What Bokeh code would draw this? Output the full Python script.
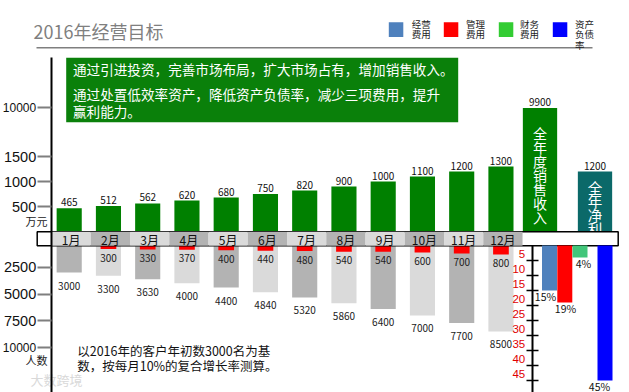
from bokeh.plotting import figure
from bokeh.models import Range1d, LinearAxis, FixedTicker
from bokeh.core.properties import value
from bokeh.embed import file_html
from bokeh.resources import INLINE

# ---------------- data ----------------
months = ["1月", "2月", "3月", "4月", "5月", "6月", "7月", "8月", "9月", "10月", "11月", "12月"]
month_revenue = [465, 512, 562, 620, 680, 750, 820, 900, 1000, 1100, 1200, 1300]      # 万元
annual_revenue = 9900
annual_net_profit = 1200
customers = [3000, 3300, 3630, 4000, 4400, 4840, 5320, 5860, 6400, 7000, 7700, 8500]  # 人数
new_customer_months = months[1:]
new_customers = [300, 330, 370, 400, 440, 480, 540, 540, 600, 700, 800]
expense_names = ["经营\n费用", "管理\n费用", "财务\n费用", "资产\n负债\n率"]
expense_pct = [15, 19, 4, 45]
rev_ticks = [500, 1000, 1500]
rev_break_ticks = [10000]
cust_ticks = [2500, 5000, 7500]
cust_far_ticks = [10000]
pct_ticks = [5, 10, 15, 20, 25, 30, 35, 40, 45]
title = "2016年经营目标"
goal_lines = ["通过引进投资，完善市场布局，扩大市场占有，增加销售收入。",
              "通过处置低效率资产，降低资产负债率，减少三项费用，提升",
              "赢利能力。"]
note = "以2016年的客户年初数3000名为基\n数，按每月10%的复合增长率测算。"

# ---------------- layout ----------------
CJK = value("Noto Sans CJK SC")
W, H = 629, 392
Y_TOP, Y_BOT = 0, 392
X_L, X_R = 0, 629


def xu(X):
    return (X - 68.7) / 39.25 + 1


REV_BASE, REV_PX = 231.0, 0.05


def rev_y(v):
    # broken axis above 1500
    return v if v <= 1500 else 1500 + (v - 1500) * 980 / 8500


def down_range(base, ppu):
    return Range1d(start=(Y_BOT - base) / ppu, end=(Y_TOP - base) / ppu)


p = figure(width=W, height=H, output_backend="svg", toolbar_location=None,
           x_axis_type=None, y_axis_type=None, min_border=0,
           x_range=Range1d(xu(X_L), xu(X_R)),
           y_range=Range1d((REV_BASE - Y_BOT) / REV_PX, (REV_BASE - Y_TOP) / REV_PX))
p.outline_line_color = None
p.background_fill_color = "white"
p.extra_x_ranges = {"px": Range1d(X_L, X_R)}
p.extra_y_ranges = {"px": Range1d(Y_BOT, Y_TOP),
                    "ppl": down_range(240, 0.0107),
                    "inc": down_range(245.3, 0.011),
                    "pct": down_range(245, 3.0),
                    "pctlab": down_range(238, 3.0)}
PX = dict(x_range_name="px", y_range_name="px")

mx = list(range(1, 13))

# title + rule
p.text(x=[33], y=[30.7], text=[title], text_font=CJK, text_font_size="18px",
       text_color="#7f7f7f", text_baseline="middle", **PX)
p.segment(x0=[36], x1=[592], y0=[47.3], y1=[47.3], line_color="#7f7f7f", line_width=1.5, **PX)

# legend
leg_colors = ["#4f81bd", "#ff0000", "#33cc33", "#0000ff"]
leg_left = [388.3, 443.3, 498.3, 552.3]
p.quad(left=leg_left, right=[v + 14.5 for v in leg_left], top=[21.7] * 4, bottom=[36.5] * 4,
       fill_color=leg_colors, line_color=None, **PX)
p.text(x=[411.2, 465.5, 519.5, 574.5], y=[16.3] * 4, text=expense_names, text_font=CJK,
       text_font_size="9.5px", text_line_height=0.76, text_baseline="top", text_color="#222222", **PX)

# goal box
p.quad(left=[65.7], right=[457.7], top=[57.3], bottom=[121.7], fill_color="#0a800a", line_color=None, **PX)
p.text(x=[72.5] * 3, y=[68, 93, 110], text=goal_lines, text_font=CJK, text_font_size="13.6px",
       text_color="white", text_baseline="middle", **PX)

# left axes
AX_X = xu(50.7)
ax_rev = LinearAxis(ticker=FixedTicker(ticks=[rev_y(t) for t in rev_ticks]), fixed_location=AX_X,
                    bounds=((REV_BASE - 392) / REV_PX, (REV_BASE - 57) / REV_PX))
ax_rev_hi = LinearAxis(ticker=FixedTicker(ticks=[rev_y(t) for t in rev_break_ticks]), fixed_location=AX_X,
                       major_label_overrides={int(rev_y(t)): str(t) for t in rev_break_ticks},
                       axis_line_color=None)
ax_ppl = LinearAxis(y_range_name="ppl", ticker=FixedTicker(ticks=cust_ticks), fixed_location=AX_X,
                    axis_line_color=None)
ax_ppl_far = LinearAxis(y_range_name="ppl", ticker=FixedTicker(ticks=cust_far_ticks), fixed_location=AX_X,
                        axis_line_color=None)
for ax, fs in [(ax_rev, "14.5px"), (ax_rev_hi, "12px"), (ax_ppl, "14.5px"), (ax_ppl_far, "12px")]:
    ax.axis_line_width = 2
    ax.major_tick_in = 0
    ax.major_tick_out = 14
    ax.major_tick_line_color = "#7f7f7f"
    ax.major_tick_line_width = 2
    ax.minor_tick_line_color = None
    ax.major_label_standoff = 1
    ax.major_label_text_font = "Liberation Sans"
    ax.major_label_text_font_size = fs
    ax.major_label_text_color = "#111111"
    p.add_layout(ax, "left")

p.text(x=[36, 36], y=[220, 359], text=["万元", "人数"], text_font=CJK, text_font_size="11px",
       text_align="center", text_baseline="middle", text_color="#222222", **PX)

# headcount bars (below band)
cust_colors = ["#b3b3b3" if i % 2 == 1 else "#dadada" for i in mx]
p.vbar(x=mx, top=customers, bottom=0, width=0.64, fill_color=cust_colors, line_color=None, y_range_name="ppl")
p.text(x=mx, y=customers, text=[str(v) for v in customers], text_font=CJK, text_font_size="10px",
       text_align="center", text_baseline="middle", y_offset=13, text_color="#222222", y_range_name="ppl")

# new customers (red)
inc_x = mx[1:]
p.vbar(x=inc_x, top=new_customers, bottom=0, width=0.4, fill_color="#ff0000", line_color=None, y_range_name="inc")
p.text(x=inc_x, y=new_customers, text=[str(v) for v in new_customers], text_font=CJK, text_font_size="10px",
       text_align="center", text_baseline="middle", y_offset=8.5, text_color="#222222", y_range_name="inc")

# monthly revenue bars
p.vbar(x=mx, top=[rev_y(v) for v in month_revenue], bottom=0, width=0.64, fill_color="#008000", line_color=None)
p.text(x=mx, y=[rev_y(v) for v in month_revenue], text=[str(v) for v in month_revenue], text_font=CJK,
       text_font_size="10px", text_align="center", text_baseline="bottom", y_offset=-2, text_color="#111111")

# annual bars
AN_X, NP_X, BIG_W = xu(539.5), xu(594.5), 34.3 / 39.25
p.vbar(x=[AN_X], top=[rev_y(annual_revenue)], bottom=0, width=BIG_W, fill_color="#008000", line_color=None)
p.vbar(x=[NP_X], top=[rev_y(annual_net_profit)], bottom=0, width=BIG_W, fill_color="#0b6969", line_color=None)
p.text(x=[AN_X, NP_X], y=[rev_y(annual_revenue), rev_y(annual_net_profit)],
       text=[str(annual_revenue), str(annual_net_profit)], text_font=CJK, text_font_size="10px",
       text_align="center", text_baseline="bottom", y_offset=-2, text_color="#111111")
p.text(x=[AN_X], y=[rev_y(annual_revenue)], text=["\n".join("全年度销售收入")], text_font=CJK,
       text_font_size="14px", text_line_height=0.7, text_align="center", text_baseline="top",
       y_offset=15, text_color="white")
p.text(x=[NP_X], y=[rev_y(annual_net_profit)], text=["\n".join("全年净利")], text_font=CJK,
       text_font_size="14.5px", text_line_height=0.66, text_align="center", text_baseline="top",
       y_offset=5, text_color="white")

# month band
p.quad(left=[36.7], right=[617.7], top=[231.3], bottom=[245.3], fill_color="white",
       line_color="black", line_width=1.5, **PX)
cell_colors = ["#dadada" if i % 2 == 1 else "#b3b3b3" for i in mx]
p.quad(left=[i - 0.45 for i in mx], right=[i + 0.55 for i in mx], top=[231.3] * 12, bottom=[245.3] * 12,
       fill_color=cell_colors, line_color=None, x_range_name="default", y_range_name="px")
p.text(x=[i + 0.05 for i in mx], y=[238.8] * 12, text=months, text_font=CJK, text_font_size="12px",
       text_align="center", text_baseline="middle", text_color="#111111", y_range_name="px")

# expense ratio bars
pct_x = [xu(549), xu(564.3), xu(579.5), xu(604.5)]
pct_lab_x = [xu(545), xu(565), xu(583), xu(599)]
pct_colors = ["#4f81bd", "#ff0000", "#42c67a", "#0000ff"]
PW = 15 / 39.25
p.vbar(x=pct_x, top=expense_pct, bottom=0, width=PW, fill_color=pct_colors, line_color=None, y_range_name="pct")
p.text(x=pct_lab_x, y=expense_pct, text=[f"{v}%" for v in expense_pct], text_font=CJK,
       text_font_size="10.5px", text_align="center", text_baseline="middle", y_offset=5.5,
       text_color="#111111", y_range_name="pct")

PCT_X = xu(531.7)
ax_pct = LinearAxis(y_range_name="pct", ticker=FixedTicker(ticks=pct_ticks), fixed_location=PCT_X,
                    bounds=(0, 60), axis_line_width=2, major_tick_in=6, major_tick_out=6,
                    major_tick_line_width=1.5, minor_tick_line_color=None,
                    major_label_text_color=None)
ax_pct_lab = LinearAxis(y_range_name="pctlab", ticker=FixedTicker(ticks=pct_ticks), fixed_location=PCT_X,
                        axis_line_color=None, major_tick_line_color=None, minor_tick_line_color=None,
                        major_tick_in=0, major_tick_out=0, major_label_standoff=7,
                        major_label_text_color="#e00000", major_label_text_font="Liberation Sans",
                        major_label_text_font_size="11.5px")
p.add_layout(ax_pct, "left")
p.add_layout(ax_pct_lab, "left")

# note + watermark
p.text(x=[76.7], y=[340.5], text=[note], text_font=CJK, text_font_size="12.5px", text_line_height=0.8,
       text_baseline="top", text_color="#111111", **PX)
p.text(x=[30], y=[378.5], text=["大数跨境"], text_font=CJK, text_font_size="13px",
       text_baseline="middle", text_color="#d9d9d9", **PX)

open("out.html", "w").write(file_html(p, INLINE))
